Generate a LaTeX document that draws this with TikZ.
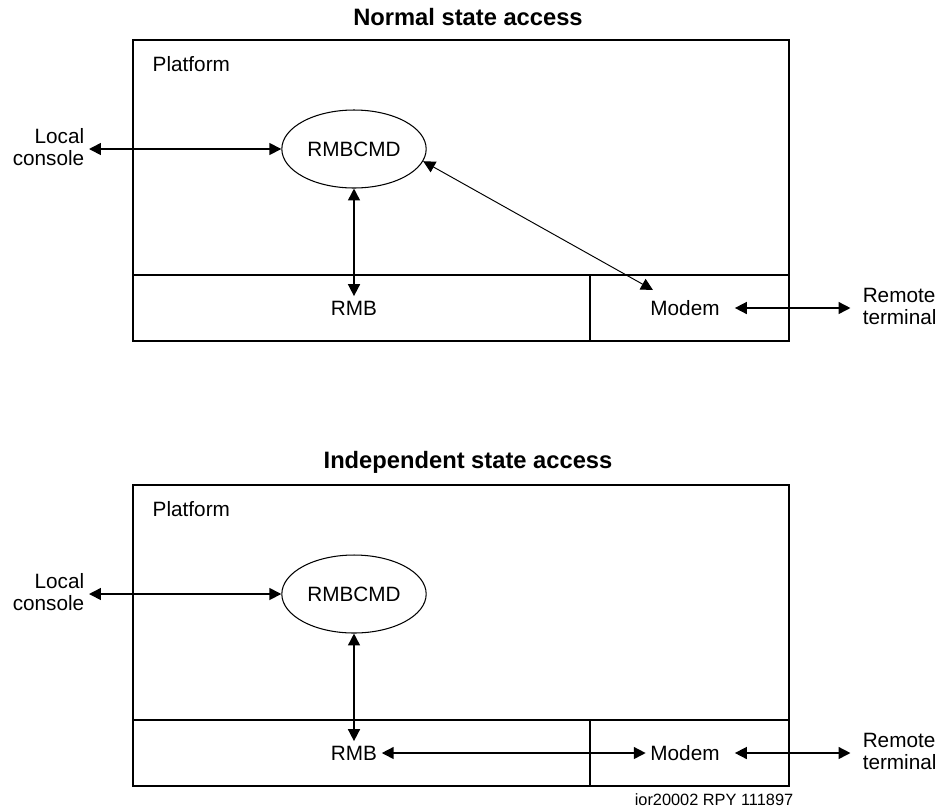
\documentclass[tikz,border=0pt]{standalone}
\usepackage{fontspec}
\setmainfont{Liberation Sans}
\usetikzlibrary{shapes.geometric,arrows.meta}
\tikzstyle{frame} = [draw, line width=1.1pt]
\tikzstyle{txt} = [inner sep=2.5pt, font=\fontsize{11.8}{12.5}\selectfont]
\tikzstyle{heading} = [txt, font=\fontsize{13.5}{15}\selectfont\bfseries]
\tikzstyle{process} = [txt, draw, ellipse, line width=0.6pt,
  minimum width=2.88cm, minimum height=1.56cm]
\tikzstyle{line} = [draw, line width=0.9pt,
  >={Triangle[length=6.8pt,width=6.8pt]}, <->]
\tikzstyle{thinline} = [line, line width=0.55pt]
% one access panel: #1 name prefix, #2 vertical offset, #3 title
\newcommand{\accesspanel}[3]{%
  \begin{scope}[shift={(0,#2)}]
    % title and platform frame
    \node (#1title) [heading] at (468,17) {#3};
    \path [frame] (133,40) rectangle (789,341);
    \path [frame] (133,275) -- (789,275);
    \path [frame] (590,275) -- (590,341);
    \node (#1platform) [txt, anchor=west] at (148,64) {Platform};
    % command process and the boards under it
    \node (#1cmd) [process] at (354,149) {RMBCMD};
    \node (#1rmb) [txt] at (354,308) {RMB};
    \node (#1modem) [txt] at (685,308) {Modem};
    % terminals outside the platform
    \node (#1console) [txt, align=right, anchor=east] at (89,147) {Local\\console};
    \node (#1remote) [txt, align=left, anchor=west] at (858,306.5) {Remote\\terminal};
    % links common to both states
    \path [line] (#1console.east |- #1cmd.west) -- (#1cmd.west);
    \path [line] (#1cmd) -- (#1rmb);
    \path [line, shorten <=6pt, shorten >=4.3pt]
      (#1modem.east) -- (#1remote.west |- #1modem.east);
  \end{scope}}

\begin{document}
\begin{tikzpicture}[x=0.02cm, y=-0.02cm]
  \useasboundingbox (0,0) rectangle (942,809);

  % Draw both panels
  \accesspanel{n}{0}{Normal state access}
  \accesspanel{i}{445}{Independent state access}

  % normal state: modem talks straight to the command process
  \coordinate (nmodemin) at ([shift={(-32,-18)}]nmodem.center);
  \path [thinline] (ncmd.-10) -- (nmodemin);

  % independent state: modem goes through the RMB
  \path [line] (irmb) -- (imodem);

  \node (docref) [txt, font=\fontsize{9.3}{11}\selectfont] at (714,800)
    {ior20002 RPY 111897};
\end{tikzpicture}
\end{document}
